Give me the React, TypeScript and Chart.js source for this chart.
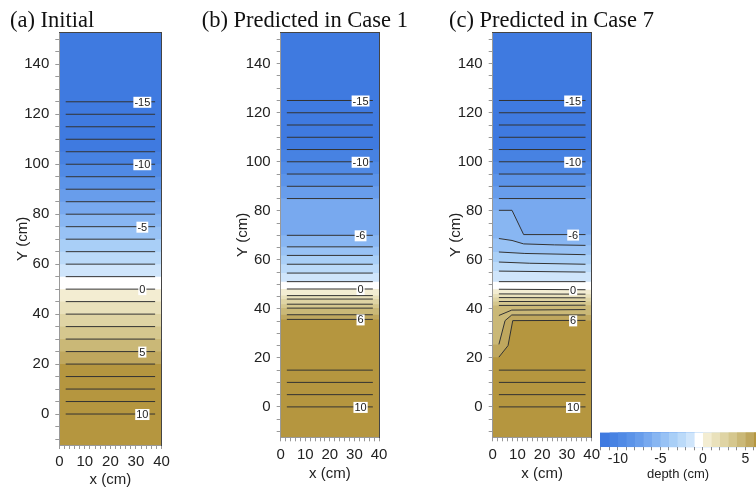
import React, { useEffect, useRef } from 'react';
import { Chart, registerables } from 'chart.js';

Chart.register(...registerables);

// ---------------- data ----------------
const X_MIN = 0;
const X_MAX = 40;
const Y_MIN = -12.4;
const Y_MAX = 152.7;
const CONTOUR_X = [2.5, 37.5];
const LABEL_X = 32.5;

// colour scale (depth, cm): block lower bounds and colours
const BLOCK_STARTS = [-12, -11, -10, -9, -8, -7, -6, -5, -4, -3, -2, -1, 0, 1, 2, 3, 4, 5, 6];
const BLOCK_COLORS = [
  '#3f7ae0', '#4782e2', '#508ae5', '#5b93e8', '#689deb', '#78a9ef', '#88b6f2', '#98c2f5',
  '#a9cff7', '#bbdaf9', '#cfe5fb', '#ffffff', '#f3edd2', '#e9e1bb', '#dfd4a4', '#d5c78e',
  '#cab877', '#bfa75e', '#b5963f',
];
const CB_MIN = -12.1;
const CB_MAX = 6.25;

// (a) Initial
const A_LEVELS = [-15, -14, -13, -12, -11, -10, -9, -8, -7, -6, -5, -4, -3, -2, -1, 0, 1, 2, 3, 4, 5, 6, 7, 8, 9, 10];
const A_Y = [125, 120, 115, 110, 105, 100, 95, 90, 85, 80, 75, 70, 65, 60, 55, 50, 45, 40, 35, 30, 25, 20, 15, 10, 5, 0];
const A_LABELS = ['-15', '-10', '-5', '0', '5', '10'];
const A_LABEL_Y = [125, 100, 75, 50, 25, 0];

// (b) Predicted in Case 1
const B_LEVELS = [-15, -14, -13, -12, -11, -10, -9, -8, -7, -6, -5, -4, -3, -2, -1, 0, 1, 2, 3, 4, 5, 6, 7, 8, 9, 10];
const B_Y = [125, 120, 115, 110, 105, 100, 95, 90, 85, 70, 65.3, 61.8, 58.2, 54.6, 51.1, 48.1, 45.4, 44, 41.9, 40.3, 37.6, 35.7, 15, 10, 5, 0];
const B_LABELS = ['-15', '-10', '-6', '0', '6', '10'];
const B_LABEL_Y = [125, 100, 70, 48.1, 35.7, 0];

// (c) Predicted in Case 7
const C_LEVELS = [-15, -14, -13, -12, -11, -10, -9, -8, -7, -6, -5, -4, -3, -2, -1, 0, 1, 2, 3, 4, 4.5, 5, 6, 7, 8, 9, 10];
const C_LINES: [number, number][][] = [
  [[2.5, 125], [37.5, 125]],
  [[2.5, 120], [37.5, 120]],
  [[2.5, 115], [37.5, 115]],
  [[2.5, 110], [37.5, 110]],
  [[2.5, 105], [37.5, 105]],
  [[2.5, 100], [37.5, 100]],
  [[2.5, 95], [37.5, 95]],
  [[2.5, 90], [37.5, 90]],
  [[2.5, 85], [37.5, 85]],
  [[2.5, 80.2], [7.8, 80.2], [12.5, 70.3], [37.5, 70.3]],
  [[2.5, 68.7], [7.8, 67.9], [12.5, 66.5], [25, 66.1], [37.5, 65.9]],
  [[2.5, 63.2], [13, 62.6], [37.5, 62.1]],
  [[2.5, 59.1], [15, 58.6], [37.5, 58.2]],
  [[2.5, 55.4], [37.5, 55.0]],
  [[2.5, 51.1], [37.5, 51.1]],
  [[2.5, 48.0], [37.5, 47.8]],
  [[2.5, 46.1], [37.5, 46.0]],
  [[2.5, 44.6], [37.5, 44.5]],
  [[2.5, 43.0], [37.5, 43.0]],
  [[2.5, 41.4], [37.5, 41.5]],
  [[2.5, 37.3], [7.7, 39.5], [37.5, 39.7]],
  [[2.5, 25.5], [5, 35.2], [7.7, 37.5], [37.5, 37.5]],
  [[2.5, 20.3], [6.2, 25], [8.1, 35.2], [37.5, 35.3]],
  [[2.5, 15], [37.5, 15]],
  [[2.5, 10], [37.5, 10]],
  [[2.5, 5], [37.5, 5]],
  [[2.5, 0], [37.5, 0]],
];
const C_LABELS = ['-15', '-10', '-6', '0', '6', '10'];
const C_LABEL_Y = [125, 100, 70.3, 47.9, 35.3, 0];

// ---------------- helpers ----------------
const SANS = "Arial, 'Liberation Sans', Helvetica, sans-serif";
const SERIF = "'Times New Roman', 'Liberation Serif', Times, serif";

type Line = { level: number; pts: [number, number][] };

function flatLines(levels: number[], ys: number[]): Line[] {
  return levels.map((lv, i) => ({
    level: lv,
    pts: [[CONTOUR_X[0], ys[i]], [CONTOUR_X[1], ys[i]]] as [number, number][],
  }));
}

function blockColor(v: number): string {
  let idx = 0;
  for (let i = 0; i < BLOCK_STARTS.length; i++) if (v >= BLOCK_STARTS[i]) idx = i;
  return BLOCK_COLORS[idx];
}

function buildDatasets(lines: Line[]) {
  const ds: any[] = [];
  ds.push({
    data: [{ x: X_MIN, y: Y_MAX }, { x: X_MAX, y: Y_MAX }],
    fill: 'start',
    backgroundColor: blockColor(lines[0].level - 0.5),
    borderColor: 'transparent',
    borderWidth: 0,
    pointRadius: 0,
    order: 1000,
  });
  lines.forEach((ln, i) => {
    const next = lines[i + 1];
    const mid = next ? (ln.level + next.level) / 2 : ln.level + 0.5;
    const first = ln.pts[0];
    const last = ln.pts[ln.pts.length - 1];
    const pts = [[X_MIN, first[1]], ...ln.pts, [X_MAX, last[1]]];
    ds.push({
      data: pts.map(([x, y]) => ({ x, y })),
      fill: 'start',
      backgroundColor: blockColor(mid),
      borderColor: 'transparent',
      borderWidth: 0,
      pointRadius: 0,
      order: 999 - i,
    });
  });
  lines.forEach((ln) => {
    ds.push({
      data: ln.pts.map(([x, y]) => ({ x, y })),
      fill: false,
      borderColor: '#333333',
      borderWidth: 1,
      pointRadius: 0,
      order: 0,
    });
  });
  return ds;
}

function labelPlugin(labels: string[], ys: number[]) {
  return {
    id: 'contourLabels',
    afterDatasetsDraw(chart: any) {
      const { ctx } = chart;
      const xs = chart.scales.x;
      const yscale = chart.scales.y;
      ctx.save();
      ctx.font = `11px ${SANS}`;
      ctx.textAlign = 'center';
      ctx.textBaseline = 'middle';
      labels.forEach((t, i) => {
        const px = xs.getPixelForValue(LABEL_X);
        const py = yscale.getPixelForValue(ys[i]) + 0.5;
        const w = ctx.measureText(t).width + 2;
        ctx.fillStyle = '#ffffff';
        ctx.fillRect(px - w / 2, py - 5.5, w, 11);
        ctx.fillStyle = '#222222';
        ctx.fillText(t, px, py + 0.5);
      });
      ctx.restore();
    },
  };
}

type PanelParams = {
  title: string;
  padL: number;
  yW: number;
  rightW: number;
  padB: number;
  xH: number;
  yTitlePad: number;
  xTickPad: number;
};

function panelConfig(p: PanelParams, lines: Line[], labels: string[], labelYs: number[]) {
  const tickGrid = {
    display: true,
    drawOnChartArea: false,
    drawTicks: true,
    tickLength: 4,
    tickColor: '#999999',
    color: '#999999',
  };
  return {
    type: 'line',
    data: { datasets: buildDatasets(lines) },
    plugins: [labelPlugin(labels, labelYs)],
    options: {
      responsive: false,
      animation: false,
      devicePixelRatio: 1,
      events: [],
      layout: { padding: { left: p.padL, right: 0, top: 0, bottom: p.padB } },
      plugins: {
        legend: { display: false },
        tooltip: { enabled: false },
        title: {
          display: true,
          text: p.title,
          align: 'start',
          color: '#111111',
          font: { family: SERIF, size: 22.5, weight: 'normal', lineHeight: 1 },
          padding: { top: 10.1, bottom: 0 },
        },
      },
      scales: {
        x: {
          type: 'linear',
          position: 'bottom',
          min: X_MIN,
          max: X_MAX,
          afterFit: (s: any) => { s.height = p.xH; },
          ticks: {
            stepSize: 2,
            autoSkip: false,
            includeBounds: false,
            maxRotation: 0,
            minRotation: 0,
            padding: p.xTickPad,
            color: '#222222',
            font: { family: SANS, size: 15 },
            callback: (v: number) => (Math.abs(v % 10) < 1e-6 ? String(v) : ''),
          },
          grid: tickGrid,
          border: { display: true, color: '#999999', width: 1, z: 1 },
          title: {
            display: true,
            text: 'x (cm)',
            color: '#222222',
            font: { family: SANS, size: 15, lineHeight: 1 },
            padding: { top: 0, bottom: 0 },
          },
        },
        y: {
          type: 'linear',
          position: 'left',
          min: Y_MIN,
          max: Y_MAX,
          afterFit: (s: any) => { s.width = p.yW; },
          ticks: {
            stepSize: 5,
            autoSkip: false,
            includeBounds: false,
            padding: 6,
            color: '#222222',
            font: { family: SANS, size: 15 },
            callback: (v: number) => (Math.abs(v % 20) < 1e-6 ? String(v) : ''),
          },
          grid: tickGrid,
          border: { display: true, color: '#999999', width: 1, z: 1 },
          title: {
            display: true,
            text: 'Y (cm)',
            color: '#222222',
            font: { family: SANS, size: 15, lineHeight: 1 },
            padding: { top: p.yTitlePad, bottom: 0 },
          },
        },
        x2: {
          type: 'linear',
          position: 'top',
          min: X_MIN,
          max: X_MAX,
          afterFit: (s: any) => { s.height = 0; },
          ticks: { display: false },
          grid: { display: false },
          border: { display: true, color: '#444444', width: 1, z: 1 },
        },
        y2: {
          type: 'linear',
          position: 'right',
          min: Y_MIN,
          max: Y_MAX,
          afterFit: (s: any) => { s.width = p.rightW; },
          ticks: { display: false },
          grid: { display: false },
          border: { display: true, color: '#444444', width: 1, z: 1 },
        },
      },
    },
  };
}

function colorbarConfig() {
  const starts = [CB_MIN, ...BLOCK_STARTS.slice(1)];
  const datasets = starts.map((s, i) => ({
    data: [{ x: s, y: 1 }, { x: CB_MAX, y: 1 }],
    fill: 'start',
    backgroundColor: BLOCK_COLORS[i],
    borderColor: 'transparent',
    borderWidth: 0,
    pointRadius: 0,
    order: 100 - i,
  }));
  return {
    type: 'line',
    data: { datasets },
    options: {
      responsive: false,
      animation: false,
      devicePixelRatio: 1,
      events: [],
      layout: { padding: { left: 10, right: 0, top: 32.3, bottom: 5.8 } },
      plugins: { legend: { display: false }, tooltip: { enabled: false } },
      scales: {
        x: {
          type: 'linear',
          min: CB_MIN,
          max: CB_MAX,
          afterFit: (s: any) => { s.height = 33.9; },
          ticks: {
            stepSize: 1,
            autoSkip: false,
            includeBounds: false,
            maxRotation: 0,
            minRotation: 0,
            padding: 0,
            color: '#222222',
            font: { family: SANS, size: 14 },
            callback: (v: number) => (Math.abs(v % 5) < 1e-6 ? String(v) : ''),
          },
          grid: { display: true, drawOnChartArea: false, drawTicks: true, tickLength: 3, tickColor: '#888888', color: '#888888' },
          border: { display: false },
          title: {
            display: true,
            text: 'depth (cm)',
            color: '#222222',
            font: { family: SANS, size: 13, lineHeight: 1 },
            padding: { top: 0, bottom: 0 },
          },
        },
        y: { display: false, min: 0, max: 1 },
      },
    },
  };
}

function ChartCanvas(props: { left: number; top: number; width: number; height: number; make: () => any }) {
  const ref = useRef<HTMLCanvasElement>(null);
  useEffect(() => {
    const chart = new Chart(ref.current as HTMLCanvasElement, props.make());
    return () => chart.destroy();
  }, []);
  return (
    <canvas
      ref={ref}
      width={props.width}
      height={props.height}
      style={{ position: 'absolute', left: props.left, top: props.top, width: props.width, height: props.height }}
    />
  );
}

export default function App() {
  const linesA = flatLines(A_LEVELS, A_Y);
  const linesB = flatLines(B_LEVELS, B_Y);
  const linesC: Line[] = C_LEVELS.map((lv, i) => ({ level: lv, pts: C_LINES[i] }));
  return (
    <div style={{ position: 'absolute', left: 0, top: 0, width: 756, height: 487, background: '#ffffff', overflow: 'hidden' }}>
      <ChartCanvas
        left={0}
        top={0}
        width={196}
        height={487}
        make={() =>
          panelConfig(
            { title: '(a) Initial', padL: 10, yW: 49.3, rightW: 34.5, padB: 0, xH: 42, yTitlePad: 5, xTickPad: 4 },
            linesA, A_LABELS, A_LABEL_Y
          )
        }
      />
      <ChartCanvas
        left={196}
        top={0}
        width={229}
        height={487}
        make={() =>
          panelConfig(
            { title: '(b) Predicted in Case 1', padL: 5.7, yW: 79, rightW: 46, padB: 6, xH: 43.7, yTitlePad: 33.8, xTickPad: 4.7 },
            linesB, B_LABELS, B_LABEL_Y
          )
        }
      />
      <ChartCanvas
        left={444}
        top={0}
        width={226}
        height={487}
        make={() =>
          panelConfig(
            { title: '(c) Predicted in Case 7', padL: 5, yW: 43.7, rightW: 78.3, padB: 6, xH: 43.7, yTitlePad: -1, xTickPad: 4.7 },
            linesC, C_LABELS, C_LABEL_Y
          )
        }
      />
      <ChartCanvas left={590} top={400} width={166} height={87} make={colorbarConfig} />
    </div>
  );
}
